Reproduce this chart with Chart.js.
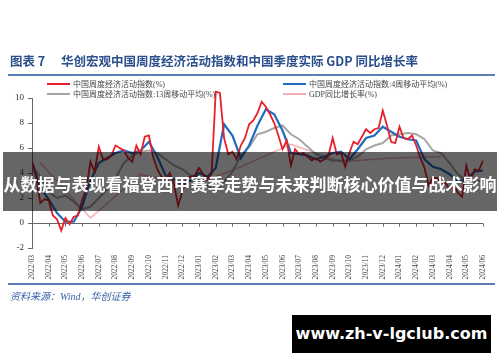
<!DOCTYPE html>
<html>
<head>
<meta charset="utf-8">
<script src="https://cdn.jsdelivr.net/npm/chart.js@4.4.1/dist/chart.umd.min.js"></script>
<style>
  body { margin: 0; background: #fff; }
  #wrap { position: relative; width: 500px; height: 362px; overflow: hidden; background: #fff; }
  #c { position: absolute; left: 0; top: 0; }
  .title { position: absolute; top: 51px; left: 10px; font: 700 12.5px "Noto Sans CJK SC", sans-serif; color: #2a4f8c; white-space: nowrap; }
  .title .no { display: inline-block; width: 51px; }
  .rule { position: absolute; left: 8px; width: 487px; height: 2px; background: #5b7fb5; }
  .legend { position: absolute; font: 8px "Liberation Serif", "Noto Sans CJK SC", serif; color: #444; white-space: nowrap; }
  .legend div { position: absolute; display: flex; align-items: center; }
  .legend span.sw { display: inline-block; width: 23px; height: 2px; margin-right: 3px; }
  .source { position: absolute; left: 10px; top: 288px; font: italic 10px "Liberation Serif", "Noto Sans CJK SC", serif; color: #3a62a8; }
  .banner { position: absolute; left: 3px; top: 152px; width: 494px; height: 59px; background: rgba(0,0,0,0.6);
            color: #fff; font: 700 17px "Noto Sans CJK SC", sans-serif; line-height: 63px; text-align: center; white-space: nowrap; }
  .mark { position: absolute; left: 292px; top: 315px; width: 199px; height: 38px; background: #000; color: #fff;
          font: 700 16px "DejaVu Sans", sans-serif; line-height: 38px; text-align: center; }
</style>
</head>
<body>
<div id="wrap">
  <canvas id="c" width="500" height="362"></canvas>
  <div class="title"><span class="no">图表 7</span>华创宏观中国周度经济活动指数和中国季度实际 GDP 同比增长率</div>
  <div class="rule" style="top:74px"></div>
  <div class="legend" id="legend"></div>
  <div class="rule" style="top:283px"></div>
  <div class="source">资料来源：Wind，华创证券</div>
  <div class="banner">从数据与表现看福登西甲赛季走势与未来判断核心价值与战术影响</div>
  <div class="mark">www.zh-v-lgclub.com</div>
</div>
<script>
// month ticks on the x axis (index 0 = 2022/03)
const months = ['2022/03','2022/04','2022/05','2022/06','2022/07','2022/08','2022/09','2022/10','2022/11','2022/12',
  '2023/01','2023/02','2023/03','2023/04','2023/05','2023/06','2023/07','2023/08','2023/09','2023/10','2023/11','2023/12',
  '2024/01','2024/02','2024/03','2024/04','2024/05','2024/06'];

// weekly index, one value per quarter month
const weeklyIndex = [4.9,3.6,1.6,1.9,1.8,0.6,0.3,-0.6,0.4,-0.1,
  0.5,0.6,1.8,2.7,4.9,4.1,6.1,5.1,5.1,5.4,
  6.2,6.0,5.8,5.2,4.9,6.2,5.5,6.9,7.0,5.3,
  4.3,3.7,3.5,4.0,3.1,1.4,2.5,3.6,3.7,3.8,
  4.4,3.9,3.5,3.9,10.5,10.4,6.8,5.5,5.7,5.1,
  6.2,6.8,7.9,8.2,8.8,9.7,9.3,8.7,8.0,7.0,
  5.9,6.6,4.6,5.9,5.5,5.6,5.3,5.0,5.2,4.9,
  5.1,5.4,6.8,5.5,5.6,4.5,5.6,6.5,6.3,6.9,
  7.5,7.2,7.5,7.6,9.0,7.8,6.5,6.4,7.7,6.8,
  6.7,7.0,6.2,5.2,4.4,3.0,3.6,3.6,3.1,3.2,
  2.7,3.0,2.4,2.1,4.6,3.4,4.3,4.2,5.0];

// moving averages, one value per half month
const ma4 = [4.9,2.8,1.9,0.8,0.1,0.1,1.3,3.4,4.8,5.2,
  5.6,5.8,5.6,5.8,6.5,5.3,3.8,3.5,3.1,3.4,
  4.0,3.7,4.4,7.9,7.0,5.2,6.2,7.8,9.1,8.7,
  7.4,5.6,5.5,5.4,5.1,5.3,5.6,5.7,5.1,5.9,
  6.8,7.0,7.7,7.3,6.9,6.7,6.6,5.1,4.5,4.3,
  3.9,3.3,3.5,4.1,4.2];
const ma13 = [4.6,3.7,2.5,2.0,2.2,1.7,1.1,1.3,2.0,2.7,
  3.6,4.8,5.4,5.7,5.8,5.6,5.1,4.6,4.3,3.8,
  3.4,3.0,2.5,3.3,4.1,5.4,6.1,7.1,7.3,7.6,
  7.8,7.1,6.7,6.1,5.5,5.2,5.0,5.0,5.0,5.3,
  5.9,6.2,6.4,7.0,7.1,7.2,7.1,6.7,5.8,5.6,
  4.8,3.9,3.4,3.3,3.4];

// quarterly GDP, year on year
const gdpQuarters = ['2022/03','2022/06','2022/09','2022/12','2023/03','2023/06','2023/09','2023/12','2024/03'];
const gdpValues = [4.8,0.4,3.9,2.9,4.5,6.3,4.9,5.2,5.3];

const seriesPts = (arr, step) => arr.map((v, i) => ({ x: i * step, y: v }));
const gdpPts = gdpQuarters.map((q, i) => ({ x: months.indexOf(q) + 0.5, y: gdpValues[i] }));

const serif = '"Liberation Serif", "Noto Sans CJK SC", serif';

// x axis line drawn through zero, with month ticks
const zeroAxis = {
  id: 'zeroAxis',
  beforeDatasetsDraw(chart) {
    const { ctx, chartArea, scales } = chart;
    const y0 = Math.round(scales.y.getPixelForValue(0)) + 0.5;
    ctx.save();
    ctx.strokeStyle = '#666';
    ctx.lineWidth = 1;
    ctx.beginPath();
    ctx.moveTo(chartArea.left, y0);
    ctx.lineTo(chartArea.right, y0);
    months.forEach((m, i) => {
      const px = Math.round(scales.x.getPixelForValue(i)) + 0.5;
      ctx.moveTo(px, y0);
      ctx.lineTo(px, y0 + 3);
    });
    ctx.stroke();
    ctx.restore();
  }
};

const chart = new Chart(document.getElementById('c'), {
  type: 'line',
  data: {
    datasets: [
      { label: '中国周度经济活动指数(%)', data: seriesPts(weeklyIndex, 0.25), borderColor: '#e8202a', borderWidth: 1.8 },
      { label: '中国周度经济活动指数:4周移动平均(%)', data: seriesPts(ma4, 0.5), borderColor: '#1f6cc0', borderWidth: 2.2 },
      { label: '中国周度经济活动指数:13周移动平均(%)', data: seriesPts(ma13, 0.5), borderColor: '#a6a6a6', borderWidth: 2 },
      { label: 'GDP同比增长率(%)', data: gdpPts, borderColor: '#f3b0b0', borderWidth: 1.6 }
    ]
  },
  options: {
    responsive: false,
    animation: false,
    parsing: false,
    datasets: { line: { pointRadius: 0, tension: 0, fill: false, clip: { left: 0, top: 10, right: 0, bottom: 0 } } },
    layout: { padding: { left: 0, right: 17, top: 98, bottom: 74 } },
    plugins: { legend: { display: false }, tooltip: { enabled: false } },
    scales: {
      x: {
        type: 'linear', min: 0, max: months.length - 1,
        grid: { display: false, drawTicks: false },
        border: { display: false },
        ticks: {
          stepSize: 1, autoSkip: false, maxRotation: 90, minRotation: 90, padding: 7,
          font: { family: serif, size: 7.5 }, color: '#444',
          callback: v => months[v] ?? ''
        },
        afterFit: s => { s.height = 40; }
      },
      y: {
        min: -2, max: 10,
        grid: { drawOnChartArea: false, tickLength: 4, color: '#666' },
        border: { display: true, color: '#666' },
        ticks: { stepSize: 2, padding: 4, font: { family: serif, size: 9 }, color: '#333' },
        afterFit: s => { s.width = 32; }
      }
    }
  },
  plugins: [zeroAxis]
});

// two-column legend built from the datasets
const legendPos = [[47, 78], [283, 78], [47, 88], [283, 88]];
const legend = document.getElementById('legend');
chart.data.datasets.forEach((ds, i) => {
  const d = document.createElement('div');
  d.style.left = legendPos[i][0] + 'px';
  d.style.top = legendPos[i][1] + 'px';
  d.innerHTML = '<span class="sw" style="background:' + ds.borderColor + '"></span>' + ds.label;
  legend.appendChild(d);
});
</script>
</body>
</html>
